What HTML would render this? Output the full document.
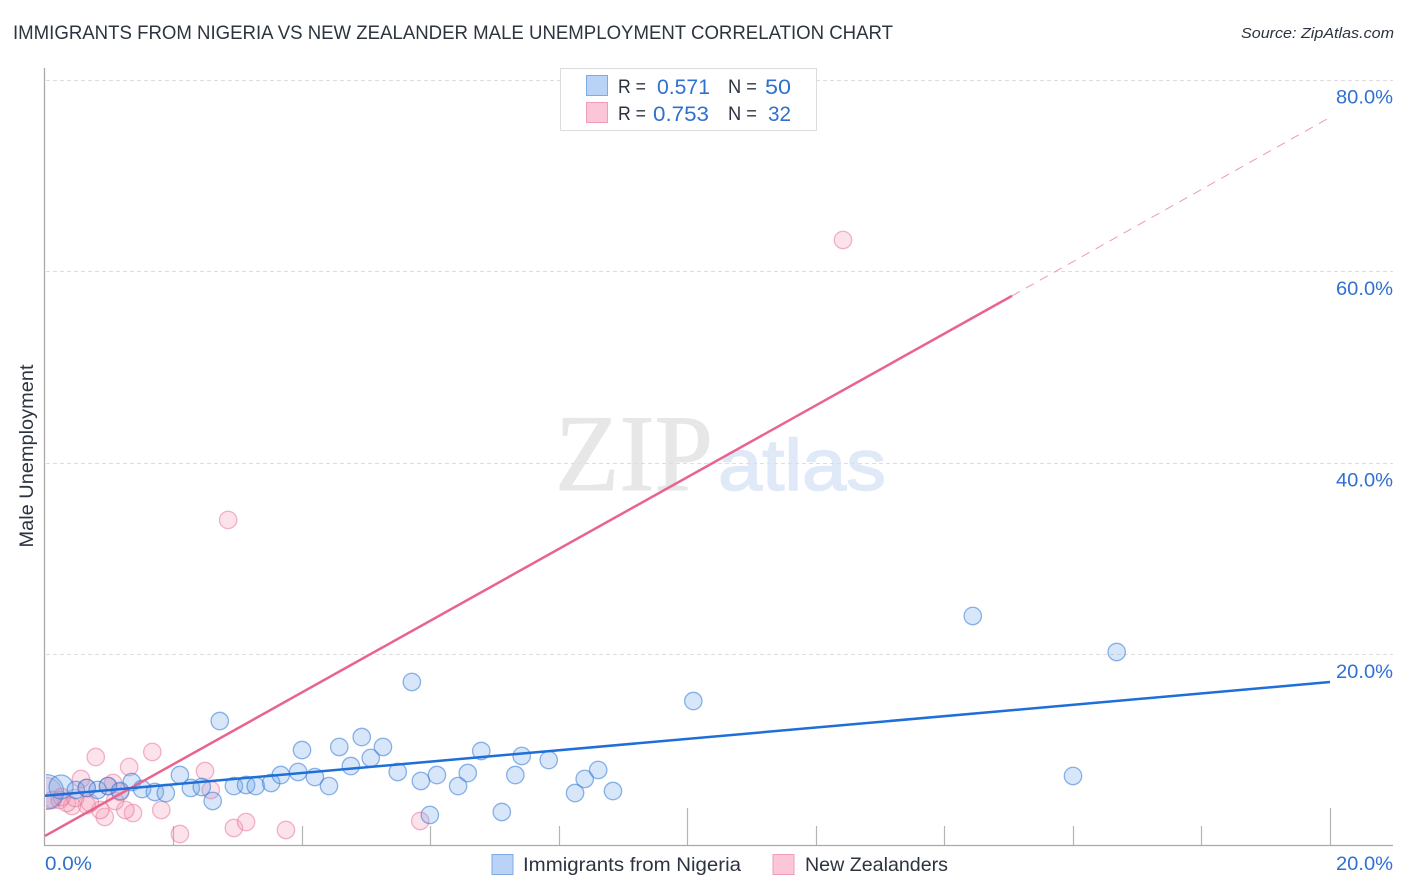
<!DOCTYPE html>
<html lang="en">
<head>
<meta charset="utf-8">
<title>Immigrants from Nigeria vs New Zealander Male Unemployment Correlation Chart</title>
<style>
html,body{margin:0;padding:0;background:#fff;width:1406px;height:892px;overflow:hidden}
svg{display:block;font-family:"Liberation Sans",sans-serif}
</style>
</head>
<body>
<svg id="chart" width="1406" height="892" viewBox="0 0 1406 892" xmlns="http://www.w3.org/2000/svg">
  <defs><clipPath id="plot-clip"><rect x="46" y="68" width="1348" height="777"/></clipPath></defs>
  <rect width="1406" height="892" fill="#fff"/>
  <text x="13" y="39" font-size="19" fill="#2c3440" textLength="880" lengthAdjust="spacingAndGlyphs">IMMIGRANTS FROM NIGERIA VS NEW ZEALANDER MALE UNEMPLOYMENT CORRELATION CHART</text>
  <text x="1394" y="38" font-size="15" font-style="italic" fill="#2c3440" text-anchor="end" textLength="153" lengthAdjust="spacingAndGlyphs">Source: ZipAtlas.com</text>

  <g id="watermark">
    <text x="555" y="490" font-family="'Liberation Serif',serif" font-size="109" fill="#e7e7e7" stroke="#e7e7e7" stroke-width="1" textLength="158" lengthAdjust="spacingAndGlyphs">ZIP</text>
    <text x="718" y="490" font-size="72" fill="#dfe9f7" stroke="#dfe9f7" stroke-width="1.5" textLength="168" lengthAdjust="spacingAndGlyphs">atlas</text>
  </g>

  <g id="grid"></g>
  <g id="axes"></g>
  <g id="points" clip-path="url(#plot-clip)"></g>
  <rect x="20" y="740" width="26" height="105" fill="#fff"/>
  <g id="y-axis"></g>
  <g id="trends"></g>
  <g id="tick-labels"></g>

  <text transform="translate(33,456) rotate(-90)" font-size="19" fill="#2c3440" text-anchor="middle" textLength="183" lengthAdjust="spacingAndGlyphs">Male Unemployment</text>

  <g>
    <rect x="560.5" y="68.5" width="256" height="62" fill="#fff" stroke="#dcdcdc"/>
    <rect x="586.5" y="75.5" width="21" height="20" fill="#b9d3f7" stroke="#7eaae6"/>
    <rect x="586.5" y="102.5" width="21" height="20" fill="#fbc6d8" stroke="#f09db8"/>
    <g font-size="19.5" fill="#2c3440">
      <text x="618" y="93" textLength="28" lengthAdjust="spacingAndGlyphs">R =</text>
      <text x="728" y="93" textLength="29" lengthAdjust="spacingAndGlyphs">N =</text>
      <text x="618" y="120" textLength="28" lengthAdjust="spacingAndGlyphs">R =</text>
      <text x="728" y="120" textLength="29" lengthAdjust="spacingAndGlyphs">N =</text>
    </g>
    <g font-size="21" fill="#3070d0">
      <text x="657" y="94" textLength="53" lengthAdjust="spacingAndGlyphs">0.571</text>
      <text x="765" y="94" textLength="26" lengthAdjust="spacingAndGlyphs">50</text>
      <text x="653" y="121" textLength="56" lengthAdjust="spacingAndGlyphs">0.753</text>
      <text x="768" y="121" textLength="23" lengthAdjust="spacingAndGlyphs">32</text>
    </g>
  </g>

  <g>
    <rect x="492" y="854.5" width="21" height="20" fill="#b9d3f7" stroke="#7eaae6"/>
    <text x="523" y="871" font-size="19.5" fill="#2c3440" textLength="218" lengthAdjust="spacingAndGlyphs">Immigrants from Nigeria</text>
    <rect x="773" y="854.5" width="21" height="20" fill="#fbc6d8" stroke="#f09db8"/>
    <text x="805" y="871" font-size="19.5" fill="#2c3440" textLength="143" lengthAdjust="spacingAndGlyphs">New Zealanders</text>
  </g>
</svg>
<script>
const xTickValues = [2, 4, 6, 8, 10, 12, 14, 16, 18, 20];
const xMajorTicks = [10, 20];
const xTickLabelValues = [0, 20];
const xTickLabels = ['0.0%', '20.0%'];
const yTickValues = [20, 40, 60, 80];
const yTickLabels = ['20.0%', '40.0%', '60.0%', '80.0%'];

const nigeriaX = [0.02,0.25,0.48,0.65,0.82,0.98,1.17,1.35,1.51,1.71,1.88,2.10,2.27,2.44,2.61,2.72,2.94,3.13,3.28,3.52,3.67,3.94,4.20,4.42,4.00,4.58,4.76,4.93,5.07,5.26,5.49,5.71,5.85,5.99,6.10,6.43,6.58,6.79,7.11,7.32,7.42,7.84,8.25,8.40,8.61,8.84,10.09,14.44,16.00,16.68];
const nigeriaY = [5.59,6.11,5.80,6.01,5.80,6.21,5.69,6.63,5.90,5.59,5.48,7.36,6.01,6.11,4.65,13.00,6.21,6.32,6.21,6.53,7.36,7.68,7.15,6.21,9.97,10.29,8.30,11.33,9.14,10.29,7.68,17.08,6.74,3.19,7.36,6.21,7.57,9.87,3.50,7.36,9.35,8.93,5.48,6.95,7.89,5.69,15.09,23.97,7.26,20.21];
const nigeriaWeight = [4,1.9,1,1,1,1,1,1,1,1,1,1,1,1,1,1,1,1,1,1,1,1,1,1,1,1,1,1,1,1,1,1,1,1,1,1,1,1,1,1,1,1,1,1,1,1,1,1,1,1];

const zealandX = [2.85,12.42,0.02,0.79,1.67,1.31,2.49,0.56,1.06,2.58,1.81,1.37,0.93,1.25,0.86,0.65,0.42,1.09,2.10,2.94,3.13,3.75,5.84,0.12,0.23,0.34,0.47,0.65,1.17,0.26,0.70,0.98];
const zealandY = [34.00,63.24,5.48,9.24,9.77,8.20,7.78,6.95,6.53,5.80,3.71,3.39,2.98,3.71,3.71,4.23,4.13,4.65,1.20,1.83,2.45,1.62,2.56,4.75,4.75,4.44,4.96,6.01,5.59,5.07,4.44,6.21];
const zealandWeight = [1,1,3.2,1,1,1,1,1,1,1,1,1,1,1,1,1,1,1,1,1,1,1,1,1,1,1,1,1,1,1,1,1];

const nigeriaTrendX = [0, 20];
const nigeriaTrendY = [5.2, 17.07];
const zealandTrendX = [0, 15.05];
const zealandTrendY = [1.0, 57.4];
const zealandProjectionX = [15.05, 20.04];
const zealandProjectionY = [57.4, 76.2];

const NS = 'http://www.w3.org/2000/svg';
const xScale = v => 45 + v * 64.25;
const yScale = v => 845.5 - v * 9.575;
const radius = w => 8.7 * Math.sqrt(w);

function make(tag, attrs, parent) {
  const el = document.createElementNS(NS, tag);
  for (const k in attrs) el.setAttribute(k, attrs[k]);
  parent.appendChild(el);
  return el;
}

const gridG = document.getElementById('grid');
const axesG = document.getElementById('axes');
const yAxisG = document.getElementById('y-axis');
const pointsG = document.getElementById('points');
const trendsG = document.getElementById('trends');
const labelsG = document.getElementById('tick-labels');

yTickValues.forEach(v => {
  const y = Math.round(yScale(v)) + 0.5;
  const el = make('line', {x1: 46, x2: 1393, y1: y, y2: y, stroke: '#dedede', 'stroke-width': 1, 'stroke-dasharray': '4 3'}, gridG);
  
  
});

const yAxisLine = make('line', {x1: 44.5, x2: 44.5, y1: 68, y2: 846, stroke: '#aaaaaa', 'stroke-width': 1.3}, yAxisG);


const xAxisLine = make('line', {x1: 44, x2: 1393, y1: 845.5, y2: 845.5, stroke: '#aaaaaa', 'stroke-width': 1.3}, yAxisG);



xTickValues.forEach(v => {
  const x = Math.floor(xScale(v)) + 0.5;
  const len = xMajorTicks.includes(v) ? 38 : 20;
  const el = make('line', {x1: x, x2: x, y1: 846 - len, y2: 846, stroke: '#b4b4b4', 'stroke-width': 1.2}, axesG);
  
  
});

yTickValues.forEach((v, i) => {
  const t = make('text', {x: 1393, y: yScale(v) + 24, 'font-size': 19.5, fill: '#3070d0', 'text-anchor': 'end', textLength: 57, lengthAdjust: 'spacingAndGlyphs'}, labelsG);
  t.textContent = yTickLabels[i];
  
  
});

xTickLabelValues.forEach((v, i) => {
  const last = i === xTickLabelValues.length - 1;
  const t = make('text', {x: last ? 1393 : xScale(v), y: 870, 'font-size': 19.5, fill: '#3070d0', 'text-anchor': last ? 'end' : 'start', textLength: last ? 57 : 47, lengthAdjust: 'spacingAndGlyphs'}, labelsG);
  t.textContent = xTickLabels[i];
  
  
});

zealandX.forEach((v, i) => {
  const c = make('circle', {cx: xScale(v), cy: yScale(zealandY[i]), r: radius(zealandWeight[i]), fill: 'rgba(246,160,187,0.30)', stroke: 'rgba(232,110,150,0.50)', 'stroke-width': 1.3}, pointsG);
  
  
});

nigeriaX.forEach((v, i) => {
  const c = make('circle', {cx: xScale(v), cy: yScale(nigeriaY[i]), r: radius(nigeriaWeight[i]), fill: 'rgba(110,165,235,0.28)', stroke: 'rgba(50,120,215,0.55)', 'stroke-width': 1.3}, pointsG);
  
  
});

function lineFrom(xs, ys, attrs, parent) {
  return make('line', Object.assign({x1: xScale(xs[0]), y1: yScale(ys[0]), x2: xScale(xs[1]), y2: yScale(ys[1])}, attrs), parent);
}

const zProj = lineFrom(zealandProjectionX, zealandProjectionY, {stroke: '#eb9ab5', 'stroke-width': 1, 'stroke-dasharray': '9 7'}, trendsG);


const zTrend = lineFrom(zealandTrendX, zealandTrendY, {stroke: '#e8648f', 'stroke-width': 2.5}, trendsG);


const nTrend = lineFrom(nigeriaTrendX, nigeriaTrendY, {stroke: '#1f6fd8', 'stroke-width': 2.5}, trendsG);


</script>
</body>
</html>
